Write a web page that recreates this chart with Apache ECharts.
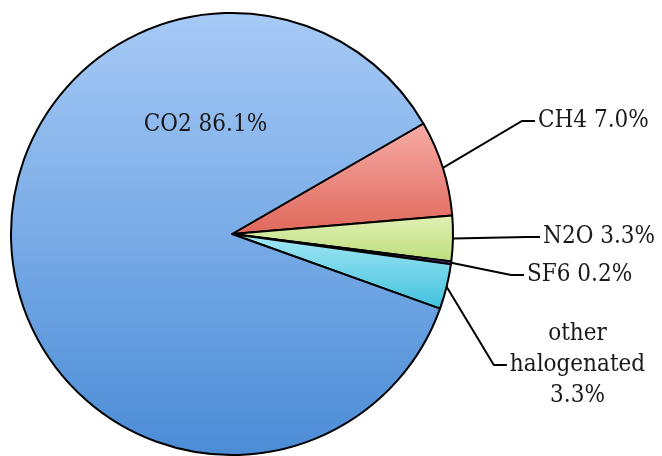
<!DOCTYPE html>
<html>
<head>
<meta charset="utf-8">
<style>
  html, body { margin: 0; padding: 0; background: #fff; }
  #chart { width: 662px; height: 456px; }
</style>
<script src="https://cdn.jsdelivr.net/npm/echarts@6/dist/echarts.min.js"></script>
</head>
<body>
<div id="chart"></div>
<script>
// shares of greenhouse gas emissions, in slice order (clockwise from 30 deg)
const gases = ["CH4", "N2O", "SF6", "other\nhalogenated", "CO2"];
const shares = [7.0, 3.3, 0.2, 3.3, 86.1];

// top / bottom gradient colour per slice
const sliceTop = ["#f6aca6", "#e2f1b4", "#8a5cc0", "#a4e8f6", "#a7caf6"];
const sliceBottom = ["#e0675b", "#bcdc7c", "#5a3090", "#40c0dc", "#4b8cd6"];

// where each label sits (anchor x, y and text alignment)
const labelSpots = [
  { x: 535, y: 121, align: "left" },
  { x: 540, y: 237, align: "left" },
  { x: 524, y: 275, align: "left" },
  { x: 576, y: 365, align: "center" },
  { x: 204, y: 125, align: "center" },
];

const chart = echarts.init(document.getElementById("chart"), null, { renderer: "canvas" });

function grad(i) {
  return {
    type: "linear", x: 0, y: 0, x2: 0, y2: 1,
    colorStops: [
      { offset: 0, color: sliceTop[i] },
      { offset: 1, color: sliceBottom[i] },
    ],
  };
}

const data = gases.map((name, i) => {
  const inside = name === "CO2";
  return {
    name: name,
    value: shares[i],
    itemStyle: { color: grad(i) },
    label: { position: inside ? "inside" : "outside" },
    labelLine: { show: !inside },
  };
});

chart.setOption({
  animation: false,
  series: [
    {
      type: "pie",
      center: [232, 234],
      radius: 221,
      startAngle: 30,
      clockwise: true,
      avoidLabelOverlap: false,
      data: data,
      itemStyle: { borderColor: "#000", borderWidth: 2 },
      label: {
        fontFamily: "DejaVu Serif Condensed, DejaVu Serif",
        fontSize: 24,
        lineHeight: 31,
        color: "#1a1a1a",
        padding: [0, 0, 0, 3],
        formatter: (p) => p.name + (p.name.indexOf("\n") >= 0 ? "\n" : " ") + p.value.toFixed(1) + "%",
      },
      labelLine: {
        length: 20,
        length2: 13,
        lineStyle: { color: "#000", width: 2 },
      },
      labelLayout: (p) => {
        const s = labelSpots[p.dataIndex];
        return { x: s.x, y: s.y, align: s.align, verticalAlign: "middle" };
      },
    },
  ],
});
</script>
</body>
</html>
